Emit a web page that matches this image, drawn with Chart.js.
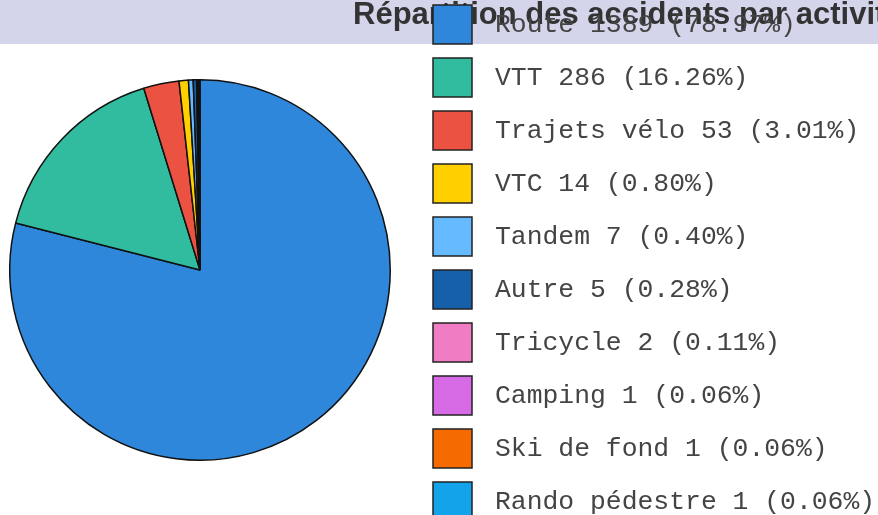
<!DOCTYPE html>
<html lang="fr">
<head>
<meta charset="utf-8">
<title>Répartition des accidents par activité</title>
<script src="https://cdn.jsdelivr.net/npm/chart.js@4"></script>
<style>
  html, body { margin: 0; padding: 0; background: #ffffff; overflow: hidden; }
  #wrap { position: relative; width: 878px; height: 515px; }
</style>
</head>
<body>
<div id="wrap"><canvas id="chart"></canvas></div>
<script>
'use strict';

//*****GLOBALS******/

let chartTitle = 'Répartition des accidents par activité';
let activityNames = ['Route', 'VTT', 'Trajets vélo', 'VTC', 'Tandem', 'Autre', 'Tricycle', 'Camping', 'Ski de fond', 'Rando pédestre'];
let accidentCounts = [1389, 286, 53, 14, 7, 5, 2, 1, 1, 1];
let sliceColors = ['#2e87da', '#31bb9f', '#ec5241', '#ffcf00', '#66baff', '#165fa9', '#f07cc3', '#d76be5', '#f66b00', '#12a3ea'];

//*****HELPERS******/

let totalCount = accidentCounts.reduce(function (a, b) { return a + b; }, 0);

function legendText(i) {
  let pct = (accidentCounts[i] / totalCount * 100).toFixed(2);
  return `${activityNames[i]} ${accidentCounts[i]} (${pct}%)`;
}

//*****PLUGINS*******/

// bandeau + titre, dessine avant la tarte
let titleBand = {
  id: 'titleBand',
  beforeDraw(chart) {
    let ctx = chart.ctx;
    ctx.save();
    ctx.fillStyle = '#d4d4ea';
    ctx.fillRect(0, 0, chart.width, 44);
    ctx.fillStyle = '#333333';
    ctx.font = 'bold 31px "Liberation Sans", Arial, sans-serif';
    ctx.textAlign = 'left';
    ctx.textBaseline = 'alphabetic';
    ctx.fillText(chartTitle, 353, 24);
    ctx.restore();
  }
};

// legende a droite, une seule colonne
let sideLegend = {
  id: 'sideLegend',
  afterDraw(chart) {
    let ctx = chart.ctx;
    let ds = chart.data.datasets[0];
    ctx.save();
    ctx.font = '26.4px Courier, "Nimbus Mono PS", "Nimbus Mono L", FreeMono, "Courier New", monospace';
    ctx.textBaseline = 'middle';
    for (let i = 0; i < chart.data.labels.length; i++) {
      let top = 5 + i * 53;
      ctx.fillStyle = ds.backgroundColor[i];
      ctx.fillRect(433, top, 39, 39);
      ctx.lineWidth = 1.5;
      ctx.strokeStyle = '#222222';
      ctx.strokeRect(433, top, 39, 39);
      ctx.fillStyle = '#444444';
      ctx.fillText(legendText(i), 495, top + 20);
    }
    ctx.restore();
  }
};

//*****CHART*******/

let canvasElem = document.getElementById('chart');

let chartObj = {
  type: 'pie',
  data: {
    labels: activityNames,
    datasets: [{
      data: accidentCounts,
      backgroundColor: sliceColors,
      borderColor: '#111111',
      borderWidth: 1.5
    }]
  },
  options: {
    responsive: true,
    maintainAspectRatio: false,
    animation: false,
    layout: {
      padding: { left: 9, right: 487, top: 79, bottom: 54 }
    },
    plugins: {
      legend: { display: false },
      title: { display: false },
      tooltip: { enabled: false }
    }
  },
  plugins: [titleBand, sideLegend]
};

new Chart(canvasElem, chartObj);
</script>
</body>
</html>
